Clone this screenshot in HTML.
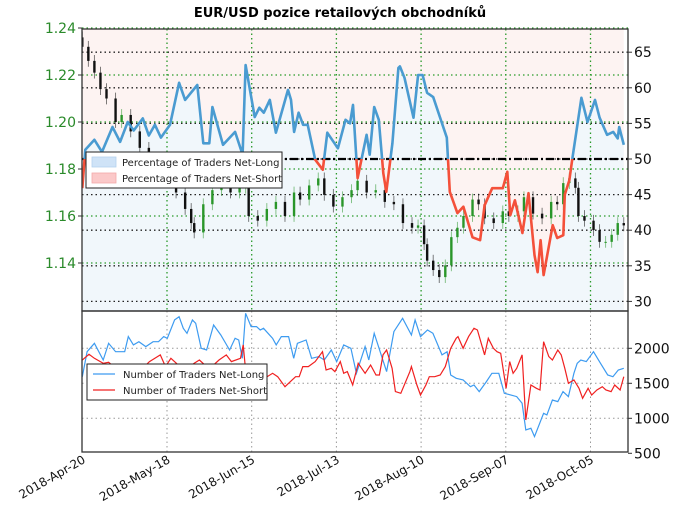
<!DOCTYPE html>
<html><head><meta charset="utf-8"><style>
body{margin:0;background:#fff;}
svg text{font-family:"DejaVu Sans","Liberation Sans",sans-serif;}
</style></head><body>
<svg id="c" width="680" height="519" viewBox="0 0 680 519" xmlns="http://www.w3.org/2000/svg"></svg>
<script>
// ---- data ----
const tickDays=[0,28,56,84,112,140,168];
const tickLabels=["2018-Apr-20","2018-May-18","2018-Jun-15","2018-Jul-13","2018-Aug-10","2018-Sep-07","2018-Oct-05"];
const pctDays=[0,1,4,6.5,10,12.5,15,17,20,22,24,26,29,32,34,38,40,42,43,46.5,50.5,53,54,57,58.5,60,62,64,68,69,70,71.5,73,74.5,77,79.5,81,84.5,87,88.5,89.5,91,94,95,96.5,98,99.5,100.5,102.5,104.5,105,106.5,109.5,111,112.5,114,116,120.5,121.5,124,126,129,131.5,133,135.5,139,140.5,141.5,143,145.5,147.5,149.5,150.5,151.5,152.5,155.5,157,159,159.5,161,162,165,167,169.5,171,173.5,175.5,177,177.5,179];
const pctVals=[45.9,51.3,52.7,51,54.5,52.4,55.2,54,55.7,53.3,54.8,53,54.8,60.7,58.3,60.4,52.2,52.2,57.3,52,53.8,50.6,63.2,55.9,57.2,56.5,58.3,53.7,59.7,58.3,53.8,56.5,54.8,54.8,49.9,48.5,53.7,51.5,55.5,55,57.6,47.3,53.4,50.6,57.3,55.5,48,45.4,52.2,62.8,63,61.4,55.8,61.8,61.8,59.3,58.7,53,45.4,42.4,43.3,39,38.6,43.5,45.9,45.9,48.2,42.1,44.2,39.6,45.2,36.5,34.1,38.6,33.7,40.7,38.9,39.3,45,47,50.1,58.6,55.2,58.3,55.8,53.4,53.8,52.9,54.5,52];
const priceDays=[0,2,4,6,8,11,13,16,19,22,26,28,31,34,36,37,40,43,46,49,52,54,55,58,61,64,67,70,72,75,78,80,83,86,89,91,94,97,100,103,106,109,111,113,114,116,118,120,122,124,126,129,131,133,136,139,141,144,146,149,152,155,157,159,161,163,164,166,169,171,173,175,177,179];
const priceClose=[1.232,1.226,1.221,1.214,1.210,1.200,1.203,1.196,1.189,1.181,1.176,1.178,1.170,1.163,1.157,1.153,1.165,1.171,1.174,1.170,1.172,1.176,1.160,1.158,1.163,1.166,1.160,1.170,1.167,1.173,1.176,1.169,1.164,1.168,1.171,1.175,1.170,1.171,1.166,1.165,1.157,1.155,1.156,1.148,1.141,1.137,1.134,1.139,1.151,1.155,1.160,1.167,1.165,1.159,1.157,1.162,1.160,1.162,1.168,1.161,1.159,1.166,1.165,1.174,1.176,1.172,1.160,1.158,1.154,1.149,1.149,1.152,1.157,1.156];
const longDays=[0,1.6,4,6.9,8.7,11,14,15.2,16.9,18.7,21,23.4,25.2,26.9,28.1,30.5,32,33.4,34.6,36.4,37.5,39.3,41.1,43.4,45.8,48.7,50.5,51.7,52.9,54,55.8,57.6,58.8,59.9,62.9,64.1,65.8,68.2,69.9,71.1,74,75.8,78.2,80,82.3,84.1,86.4,88.8,90.6,93.5,94.7,96.5,98.8,100.6,103,105.9,108.8,110,111.8,114.1,115.9,118.9,120.6,121.8,123.6,125.9,128.3,129.5,131.2,133.6,135.4,137.7,139.5,143.6,145.4,146.6,148.3,149.5,152.5,153.6,155.4,157.2,158.9,160.7,162.5,163.6,164.8,166.6,169,171.3,173.7,175.4,177.2,179];
const longVals=[1595,1952,2071,1833,2071,1952,1952,2167,2048,2095,2024,2095,2095,2167,2143,2405,2452,2286,2214,2405,2357,2000,1976,2333,2190,1976,2143,2119,1857,2500,2310,2310,2262,2286,2143,2048,2167,2167,1857,2071,2119,1857,1881,1833,1976,1810,2048,2000,1643,2024,1833,2214,1905,1667,2238,2429,2190,2405,2167,2262,2214,1905,1952,1619,1571,1548,1452,1476,1381,1524,1643,1643,1357,1310,1214,833,857,738,1071,1048,1262,1238,1381,1310,1643,1786,1833,1810,1952,1786,1619,1595,1690,1714];
const shortDays=[0,2.2,4,6.9,8.7,10.4,12.2,14,15.7,18.1,19.9,22.2,24,25.8,27.5,29.3,31.1,32.8,34.6,37,38.7,41.1,42.8,45.2,47.6,49.3,52.3,53.2,54,55.8,57.6,58.8,59.9,61.1,62.9,64.6,67,68.8,70.5,71.7,72.9,74.7,77,79.4,80.6,82.3,83.5,85.3,86.4,87.6,89.4,91.2,93.5,95.3,97.1,98.2,99.4,100.6,102.4,103.5,105.3,108.3,108.8,110.6,111.8,113.6,114.7,116.5,118.3,120,121.8,123.6,124.2,125.9,127.7,129.5,130.6,133,134.2,135.9,137.1,138.3,140.1,141.3,142.4,143.6,145.4,146.6,148.3,150.1,151.3,152.5,154.2,155.4,157.2,158.3,159.5,160.7,162.5,164.2,165.4,167.2,168.4,170.1,171.9,173.1,174.8,176,177.8,179];
const shortVals=[1833,1914,1857,1786,1800,1738,1762,1714,1738,1762,1714,1810,1857,1905,1738,1857,1786,1714,1714,1786,1833,1738,1738,1833,1905,1810,1857,2048,1690,1762,1595,1667,1762,1595,1643,1595,1452,1524,1595,1595,1738,1738,1810,1952,1690,1714,1667,1810,1643,1667,1476,1786,1643,1762,1619,1619,1905,1976,1714,1381,1357,1667,1738,1476,1333,1476,1595,1595,1619,1738,2000,2143,2167,2000,2167,2286,2262,1905,2143,2000,1952,1929,1429,1810,1643,1714,1905,976,1476,1429,1405,2095,1881,1833,1976,1905,1714,1500,1548,1429,1286,1429,1333,1405,1452,1405,1381,1476,1405,1595];
const pctTicks=[30,35,40,45,50,55,60,65];
const priceTicks=[1.14,1.16,1.18,1.20,1.22,1.24];
const cntTicks=[500,1000,1500,2000];

// ---- scales ----
const L=82,R=628,T1=29,B1=311,T2=311,B2=452;
const xD=d=>82.3+d*3.025;
const yP=v=>159-(v-50)*7.12;
const yPr=p=>169-(p-1.18)*2350;
const yC=v=>348.3-(v-2000)*0.07;
const NS="http://www.w3.org/2000/svg";
const svg=document.getElementById('c');
function mk(tag,attrs,parent){const e=document.createElementNS(NS,tag);for(const k in attrs)e.setAttribute(k,attrs[k]);(parent||svg).appendChild(e);return e;}

// title
let t=mk('text',{x:340,y:17,'text-anchor':'middle','font-size':'13','font-weight':'bold'});t.textContent='EUR/USD pozice retailových obchodníků';



// clips
const defs=mk('defs',{});
const cp1=mk('clipPath',{id:'p1'},defs);mk('rect',{x:L,y:T1,width:R-L,height:B1-T1},cp1);
const cpA=mk('clipPath',{id:'above'},defs);mk('rect',{x:L,y:T1,width:R-L,height:yP(50)-T1},cpA);
const cpB=mk('clipPath',{id:'below'},defs);mk('rect',{x:L,y:yP(50),width:R-L,height:B1-yP(50)},cpB);

// fills
const pts=pctDays.map((d,i)=>[xD(d),yP(pctVals[i])]);
const lineStr=pts.map(p=>p[0].toFixed(1)+','+p[1].toFixed(1)).join(' ');
const xEnd=xD(pctDays[pctDays.length-1]);
const gF=mk('g',{'clip-path':'url(#p1)'});
let f1=mk('rect',{x:L,y:T1,width:xEnd-L,height:B1-T1,fill:'#fdf3f2'},gF);


let f2=mk('polygon',{points:`${xD(pctDays[0])},${B1} `+lineStr+` ${xEnd},${B1}`,fill:'#f1f7fb'},gF);



// grids top
pctTicks.forEach(v=>{const l=mk('line',{x1:L,x2:R,y1:yP(v),y2:yP(v),stroke:'#222','stroke-width':1.3,'stroke-dasharray':'1.5,3'});

});
priceTicks.forEach(v=>{const l=mk('line',{x1:L,x2:R,y1:yPr(v),y2:yPr(v),stroke:'#2a9a2a','stroke-width':1.3,'stroke-dasharray':'1.5,3'});

});
tickDays.forEach(d=>{if(d===0)return;const l=mk('line',{x1:xD(d),x2:xD(d),y1:T1,y2:B1,stroke:'#2a9a2a','stroke-width':1.3,'stroke-dasharray':'1.5,3'});


const l2=mk('line',{x1:xD(d),x2:xD(d),y1:T2,y2:B2,stroke:'#999','stroke-width':1,'stroke-dasharray':'1.5,3'});

});

// candles
const gC=mk('g',{'clip-path':'url(#p1)'});


priceClose.forEach((c,i)=>{const o=i?priceClose[i-1]:c+0.004;const col=c>=o?'#2a962a':'#111';
const x=xD(priceDays[i]);const hi=Math.max(o,c)+0.0025,lo=Math.min(o,c)-0.0025;
mk('line',{x1:x,x2:x,y1:yPr(hi),y2:yPr(lo),stroke:col,'stroke-width':0.9,opacity:0.6},gC);
const r=mk('rect',{x:x-1.2,y:yPr(Math.max(o,c)),width:2.4,height:Math.max(1,Math.abs(yPr(o)-yPr(c))),fill:col},gC);

});

// 50 line
let h50=mk('line',{x1:L,x2:R,y1:yP(50),y2:yP(50),stroke:'#000','stroke-width':2.2,'stroke-dasharray':'8,3,2,3'});



// pct line
let pb=mk('polyline',{points:lineStr,fill:'none',stroke:'#4a9bd1','stroke-width':2.6,'clip-path':'url(#above)','stroke-linejoin':'round'});


let pr=mk('polyline',{points:lineStr,fill:'none',stroke:'#f4503a','stroke-width':2.6,'clip-path':'url(#below)','stroke-linejoin':'round'});



// bottom grid
cntTicks.forEach(v=>{if(v===500)return;const l=mk('line',{x1:L,x2:R,y1:yC(v),y2:yC(v),stroke:'#999','stroke-width':1,'stroke-dasharray':'1.5,3'});

});
const cp2=mk('clipPath',{id:'p2'},defs);mk('rect',{x:L,y:T2,width:R-L,height:B2-T2},cp2);
let lb=mk('polyline',{points:longDays.map((d,i)=>xD(d).toFixed(1)+','+yC(longVals[i]).toFixed(1)).join(' '),fill:'none',stroke:'#3d9bf0','stroke-width':1.2,'clip-path':'url(#p2)'});


let ls=mk('polyline',{points:shortDays.map((d,i)=>xD(d).toFixed(1)+','+yC(shortVals[i]).toFixed(1)).join(' '),fill:'none',stroke:'#f02020','stroke-width':1.2,'clip-path':'url(#p2)'});



// frames
let fr1=mk('rect',{x:L,y:T1,width:R-L,height:B1-T1,fill:'none',stroke:'#333','stroke-width':1.3});


let fr2=mk('rect',{x:L,y:T2,width:R-L,height:B2-T2,fill:'none',stroke:'#333','stroke-width':1.3});



// axis labels
priceTicks.forEach(v=>{const e=mk('text',{x:76,y:yPr(v)+5,'text-anchor':'end','font-size':'14',fill:'#2a8a2a'});e.textContent=v.toFixed(2);


mk('line',{x1:L-4,x2:L,y1:yPr(v),y2:yPr(v),stroke:'#333'});});
pctTicks.forEach(v=>{const e=mk('text',{x:634,y:yP(v)+5,'font-size':'14',fill:'#111'});e.textContent=v;


mk('line',{x1:R,x2:R+4,y1:yP(v),y2:yP(v),stroke:'#333'});});
cntTicks.forEach(v=>{const e=mk('text',{x:634,y:yC(v)+5,'font-size':'14',fill:'#111'});e.textContent=v;


mk('line',{x1:R,x2:R+4,y1:yC(v),y2:yC(v),stroke:'#333'});});
tickDays.forEach((d,i)=>{const x=xD(d)+4,y=462;const e=mk('text',{x:x,y:y,'text-anchor':'end','font-size':'12',fill:'#111',transform:`rotate(-30 ${x} ${y})`});e.textContent=tickLabels[i];

});

// legends
function legend(x,y,w,items,name,patch){const g=mk('g',{});


mk('rect',{x:x,y:y,width:w,height:items.length*16+4,fill:'#fff',stroke:'#222','stroke-width':1},g);
items.forEach((it,i)=>{const cy=y+10+i*16;
if(patch)mk('rect',{x:x+6,y:cy-5,width:24,height:10,fill:it[1],stroke:it[2],'stroke-width':0.8},g);
else mk('line',{x1:x+6,x2:x+28,y1:cy,y2:cy,stroke:it[1],'stroke-width':1.2},g);
const e=mk('text',{x:x+36,y:cy+4,'font-size':'10',fill:'#222'},g);e.textContent=it[0];

});}
legend(86,152,196,[['Percentage of Traders Net-Long','#cfe3f7','#b5d2ee'],['Percentage of Traders Net-Short','#fbc9c9','#f3aaaa']],'top-legend',true);
legend(87,364,180,[['Number of Traders Net-Long','#3d9bf0'],['Number of Traders Net-Short','#f02020']],'bottom-legend',false);
</script>
</body></html>
